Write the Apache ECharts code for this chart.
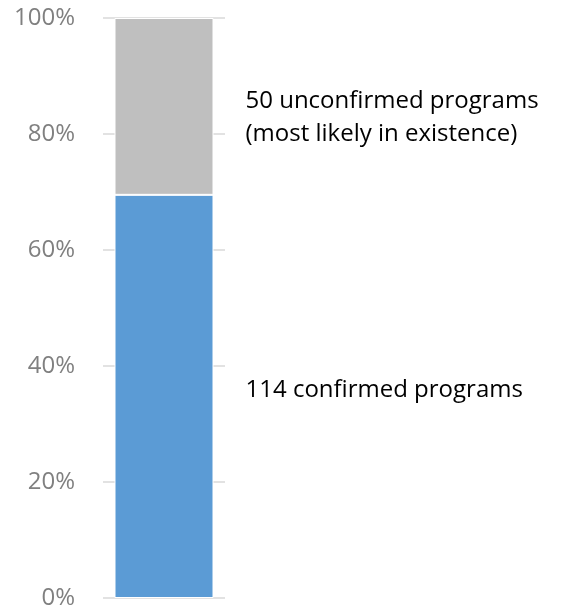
<!DOCTYPE html>
<html><head><meta charset="utf-8">
<script src="https://cdn.jsdelivr.net/npm/echarts@6/dist/echarts.min.js"></script>
<style>html,body{margin:0;padding:0;background:#fff}#c{width:561px;height:612px}</style>
</head><body><div id="c"></div>
<script>
const categories = ['Programs'];
const confirmed = [114];
const unconfirmed = [50];
const confirmedLabel = '114 confirmed programs';
const unconfirmedLabel = '50 unconfirmed programs\n(most likely in existence)';
const yTicks = [0, 20, 40, 60, 80, 100];

const total = confirmed.map((v, i) => v + unconfirmed[i]);
const confPct = confirmed.map((v, i) => v / total[i] * 100);
const unconfPct = unconfirmed.map((v, i) => v / total[i] * 100);

const chart = echarts.init(document.getElementById('c'));
const font = 'Open Sans';
chart.setOption({
  animation: false,
  grid: { left: 103, right: 336, top: 18, bottom: 14 },
  xAxis: {
    type: 'category', data: categories,
    axisLine: { show: false }, axisTick: { show: false }, axisLabel: { show: false }
  },
  yAxis: {
    type: 'value', min: yTicks[0], max: yTicks[yTicks.length - 1], interval: 20,
    axisLine: { show: false }, axisTick: { show: false },
    axisLabel: { formatter: '{value}%', color: '#808080', fontSize: 24, fontFamily: font, margin: 28 },
    splitLine: { lineStyle: { color: '#D9D9D9', width: 1.5 } }
  },
  series: [
    {
      type: 'bar', stack: 's', data: confPct, barWidth: 99,
      itemStyle: { color: '#5B9BD5', borderColor: '#fff', borderWidth: 1 },
      label: { show: true, position: 'right', distance: 32, formatter: confirmedLabel,
        color: '#000', fontSize: 24, fontFamily: font, offset: [0, -6] }
    },
    {
      type: 'bar', stack: 's', data: unconfPct, barWidth: 99,
      itemStyle: { color: '#BFBFBF', borderColor: '#fff', borderWidth: 1 },
      label: { show: true, position: 'right', distance: 32, formatter: unconfirmedLabel,
        color: '#000', fontSize: 24, lineHeight: 33, fontFamily: font, offset: [0, 11] }
    }
  ]
});
</script></body></html>
